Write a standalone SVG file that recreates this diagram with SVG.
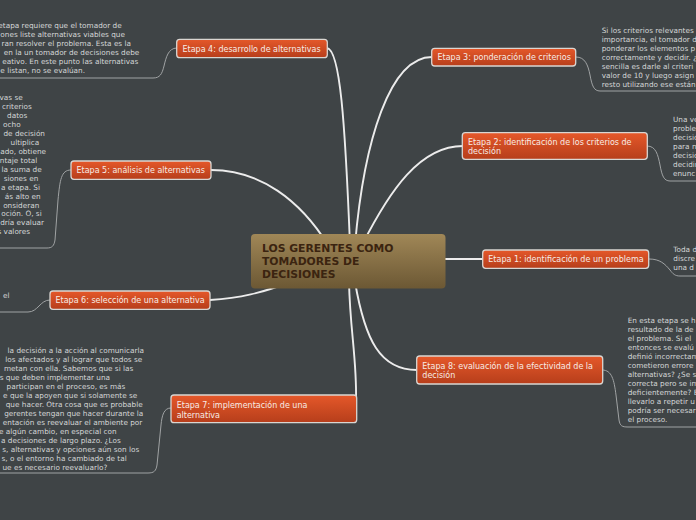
<svg xmlns="http://www.w3.org/2000/svg" width="696" height="520" viewBox="0 0 696 520">
<defs>
<linearGradient id="gNode" x1="0" y1="0" x2="0" y2="1">
<stop offset="0" stop-color="#e5582a"/>
<stop offset="1" stop-color="#b63e1b"/>
</linearGradient>
<linearGradient id="gCenter" x1="0" y1="0" x2="0" y2="1">
<stop offset="0" stop-color="#a08757"/>
<stop offset="1" stop-color="#6c5834"/>
</linearGradient>
<style>
.node rect{fill:url(#gNode);stroke:#d9d6d2;stroke-width:1.3}
.node text{font-family:"DejaVu Sans",Verdana,sans-serif;font-size:8px;fill:#f7ece6}
.main{stroke:#ececec;stroke-width:1.9;fill:none;stroke-linecap:round}
.sub{stroke:#a0a3a4;stroke-width:1;fill:none}
.blk{font-family:"DejaVu Sans",Verdana,sans-serif;font-size:7.3px;fill:#d4d6d6}
.end{text-anchor:end}
.ctext{font-family:"DejaVu Sans",Verdana,sans-serif;font-size:10.8px;font-weight:bold;fill:#3b2410}
</style>
</defs>
<rect width="696" height="520" fill="#3f4446"/>
<g id="connectors">
<path class="main" d="M327,48 C340,50 345,120 350,245"/>
<path class="main" d="M355,245 C364,140 390,57 432,57"/>
<path class="main" d="M362,245 C390,190 420,146 463,146"/>
<path class="main" d="M211,170 C260,170 300,200 328,245"/>
<path class="main" d="M440,259 L483,259"/>
<path class="main" d="M210,300 C240,298 262,293 290,282"/>
<path class="main" d="M349,282 C350,330 357,360 356,400"/>
<path class="main" d="M355,282 C365,340 380,370 417,370"/>
<path class="sub" d="M177,48 C168,48 166,58 164,66 C162,74 160,78 153,78 L0,78"/>
<path class="sub" d="M71,170 C61,170 60,180 58,200 L55,240 C54,246 52,248 47,248 L0,248"/>
<path class="sub" d="M50,300 C40,300 38,312 28,312 L0,312"/>
<path class="sub" d="M171,408 C164,408 162,415 161,425 L157,465 C156,471 154,473 148,473 L0,473"/>
<path class="sub" d="M576,57 C585,57 588,65 590,75 C592,86 594,91 600,91 L696,91"/>
<path class="sub" d="M647,146 C656,146 658,155 660,165 C662,176 664,181 670,181 L696,181"/>
<path class="sub" d="M649,259 C660,259 665,264 670,270 C673,274 675,276 680,276 L696,276"/>
<path class="sub" d="M602,370 C612,370 614,380 616,395 L619,420 C620,426 622,427 628,427 L696,427"/>
</g>
<g id="center">
<rect x="251" y="234" width="194.5" height="54.5" rx="4" fill="url(#gCenter)"/>
<text class="ctext" x="262" y="251.8">LOS GERENTES COMO</text>
<text class="ctext" x="262" y="264.8">TOMADORES DE</text>
<text class="ctext" x="262" y="278.3">DECISIONES</text>
</g>
<g id="etapa4" class="node">
<rect x="176.7" y="39.3" width="150.6" height="18.4" rx="3"/>
<text x="182.5" y="51.5">Etapa 4: desarrollo de alternativas</text>
</g>
<g id="etapa3" class="node">
<rect x="431.7" y="48.3" width="144" height="17.7" rx="3"/>
<text x="437.5" y="60">Etapa 3: ponderación de criterios</text>
</g>
<g id="etapa2" class="node">
<rect x="462.3" y="132.7" width="185" height="26.6" rx="3"/>
<text x="468" y="144.5">Etapa 2: identificación de los criterios de</text>
<text x="468" y="154">decisión</text>
</g>
<g id="etapa5" class="node">
<rect x="71" y="161" width="140" height="18.3" rx="3"/>
<text x="76.5" y="173">Etapa 5: análisis de alternativas</text>
</g>
<g id="etapa1" class="node">
<rect x="482.7" y="250" width="166" height="18.3" rx="3"/>
<text x="488.3" y="262">Etapa 1: identificación de un problema</text>
</g>
<g id="etapa6" class="node">
<rect x="50" y="291" width="160" height="18.3" rx="3"/>
<text x="55.5" y="303">Etapa 6: selección de una alternativa</text>
</g>
<g id="etapa8" class="node">
<rect x="416.7" y="356" width="186" height="28" rx="3"/>
<text x="422.3" y="368.5">Etapa 8: evaluación de la efectividad de la</text>
<text x="422.3" y="378">decisión</text>
</g>
<g id="etapa7" class="node">
<rect x="171" y="395" width="185.7" height="27.7" rx="3"/>
<text x="176.7" y="408">Etapa 7: implementación de una</text>
<text x="176.7" y="417.5">alternativa</text>
</g>
<g id="texto4" class="blk end">
<text x="121.7" y="27.6">etapa requiere que el tomador de</text>
<text x="125" y="36.6">ones liste alternativas viables que</text>
<text x="131" y="45.6">ran resolver el problema. Esta es la</text>
<text x="139.3" y="54.6">en la un tomador de decisiones debe</text>
<text x="138.3" y="63.6">eativo. En este punto las alternativas</text>
<text x="85" y="72.6">e listan, no se evalúan.</text>
</g>
<g id="texto5" class="blk end">
<text x="22.7" y="100.3">vas se</text>
<text x="31.7" y="109.2">criterios</text>
<text x="27.3" y="118.2">datos</text>
<text x="20.7" y="127.1">ocho</text>
<text x="45" y="136">de decisión</text>
<text x="39.3" y="145">ultiplica</text>
<text x="46" y="153.9">ado, obtiene</text>
<text x="37.3" y="162.8">ntaje total</text>
<text x="41.7" y="171.7">la suma de</text>
<text x="38.3" y="180.7">siones en</text>
<text x="40" y="189.6">a etapa. Si</text>
<text x="40.7" y="198.5">ás alto en</text>
<text x="39.3" y="207.5">onsideran</text>
<text x="41.7" y="216.4">oción. O, si</text>
<text x="44" y="225.3">dría evaluar</text>
<text x="30" y="234.3">s valores</text>
</g>
<g id="texto6" class="blk end">
<text x="9.5" y="297.6">el</text>
</g>
<g id="texto7" class="blk end">
<text x="144" y="352.6">la decisión a la acción al comunicarla</text>
<text x="142.3" y="361.6">los afectados y al lograr que todos se</text>
<text x="133.3" y="370.6">metan con ella. Sabemos que si las</text>
<text x="110" y="379.6">s que deben implementar una</text>
<text x="125.3" y="388.6">participan en el proceso, es más</text>
<text x="137.3" y="397.6">e que la apoyen que si solamente se</text>
<text x="142.7" y="406.6">que hacer. Otra cosa que es probable</text>
<text x="143.3" y="415.6">gerentes tengan que hacer durante la</text>
<text x="142.3" y="424.6">entación es reevaluar el ambiente por</text>
<text x="116.7" y="433.6">e algún cambio, en especial con</text>
<text x="120.7" y="442.6">o a decisiones de largo plazo. ¿Los</text>
<text x="139.3" y="451.6">s, alternativas y opciones aún son los</text>
<text x="126.7" y="460.6">s, o el entorno ha cambiado de tal</text>
<text x="107.3" y="469.6">ue es necesario reevaluarlo?</text>
</g>
<g id="texto3" class="blk">
<text x="601.7" y="33.3">Si los criterios relevantes</text>
<text x="601.7" y="42.3">importancia, el tomador d</text>
<text x="601.7" y="51.3">ponderar los elementos p</text>
<text x="601.7" y="60.3">correctamente y decidir. ¿</text>
<text x="601.7" y="69.3">sencilla es darle al criteri</text>
<text x="601.7" y="78.3">valor de 10 y luego asign</text>
<text x="601.7" y="87.3">resto utilizando ese están</text>
</g>
<g id="texto2" class="blk">
<text x="673" y="122">Una ve</text>
<text x="673" y="131">proble</text>
<text x="673" y="140">decisió</text>
<text x="673" y="149">para n</text>
<text x="673" y="158">decisio</text>
<text x="673" y="167">decidir</text>
<text x="673" y="176">enunc</text>
</g>
<g id="texto1" class="blk">
<text x="673.3" y="252">Toda d</text>
<text x="673.3" y="261">discre</text>
<text x="673.3" y="270">una d</text>
</g>
<g id="texto8" class="blk">
<text x="627.7" y="323.3">En esta etapa se h</text>
<text x="627.7" y="332.3">resultado de la de</text>
<text x="627.7" y="341.3">el problema. Si el</text>
<text x="627.7" y="350.3">entonces se evalú</text>
<text x="627.7" y="359.3">definió incorrectam</text>
<text x="627.7" y="368.3">cometieron errore</text>
<text x="627.7" y="377.3">alternativas? ¿Se s</text>
<text x="627.7" y="386.3">correcta pero se im</text>
<text x="627.7" y="395.3">deficientemente? E</text>
<text x="627.7" y="404.3">llevarlo a repetir u</text>
<text x="627.7" y="413.3">podría ser necesar</text>
<text x="627.7" y="422.3">el proceso.</text>
</g>
</svg>
